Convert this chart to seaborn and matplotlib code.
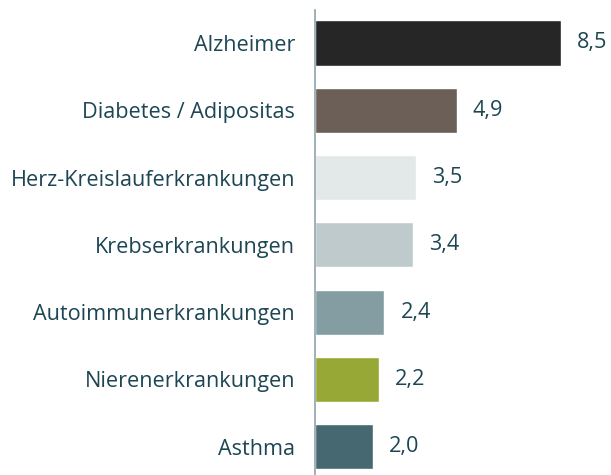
import matplotlib
matplotlib.use("Agg")
import matplotlib.pyplot as plt
import seaborn as sns
import pandas as pd

categories = ["Alzheimer", "Diabetes / Adipositas", "Herz-Kreislauferkrankungen",
              "Krebserkrankungen", "Autoimmunerkrankungen", "Nierenerkrankungen", "Asthma"]
values = [8.5, 4.9, 3.5, 3.4, 2.4, 2.2, 2.0]
value_labels = ["8,5", "4,9", "3,5", "3,4", "2,4", "2,2", "2,0"]
colors = ["#262626", "#6b5f58", "#e3e8e8", "#bfcacd", "#849da3", "#97a836", "#466870"]

sns.set_theme(style="white")
plt.rcParams['font.family'] = ['Open Sans', 'DejaVu Sans']
text_color = "#1c4654"

df = pd.DataFrame({"cat": categories, "val": values})

fig = plt.figure(figsize=(6.11, 4.75), dpi=100)
ax = fig.add_axes([315 / 611, 0, 1 - 315 / 611, (475 - 10) / 475])
sns.barplot(data=df, y="cat", x="val", hue="cat", palette=colors, orient="h",
            width=0.67, dodge=False, legend=False, ax=ax, saturation=1)

ax.set_xlim(0, (611 - 315) / 28.94)
ax.set_ylim(6.42, -0.49)
ax.set_xlabel("")
ax.set_ylabel("")
ax.set_xticks([])
ax.tick_params(axis="y", length=0, pad=14.4, labelsize=15.6, labelcolor=text_color)
for s in ["top", "right", "bottom"]:
    ax.spines[s].set_visible(False)
ax.spines["left"].set_color("#8fa3ab")
ax.spines["left"].set_linewidth(1.2)

for i, (v, lab) in enumerate(zip(values, value_labels)):
    ax.text(v + 16 / 28.94, i, lab, va="center", ha="left", fontsize=15.6, color=text_color)

fig.savefig("out.png", dpi=100)
